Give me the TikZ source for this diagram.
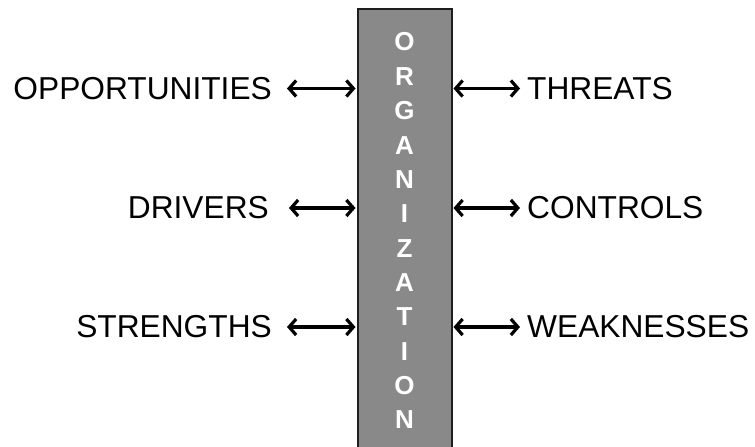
\documentclass[tikz,border=0pt]{standalone}
\usepackage{fontspec}
\setmainfont{Liberation Sans}
\usetikzlibrary{arrows.meta}
\definecolor{boxfill}{HTML}{898989}
\definecolor{boxline}{HTML}{1E1E1E}
\begin{document}
\begin{tikzpicture}[x=1pt,y=1pt,
  lab/.style={inner sep=0pt, font=\fontsize{31.7}{38}\selectfont},
  letter/.style={inner sep=0pt, text=white, font=\fontsize{26}{30}\selectfont\bfseries},
  tipbarb/.tip={Straight Barb[length=7pt,width=16pt,line width=3.2pt]},
  biarrow/.style={line width=3.2pt, tipbarb-tipbarb},
  orgbox/.style={fill=boxfill, draw=boxline, line width=2pt, minimum width=94pt, minimum height=480pt, inner sep=0pt, anchor=north}]
\useasboundingbox (0,0) rectangle (755,-447);
\clip (0,0) rectangle (755,-447);
\node[orgbox] (org) at (404.5,-8) {};
\foreach \l [count=\i from 0] in {O,R,G,A,N,I,Z,A,T,I,O,N}
  \node[letter] (l\i) at (404.5,{-42-34.36*\i}) {\l};
\node[lab, anchor=east] (opp) at (272,-88.5) {OPPORTUNITIES};
\node[lab, anchor=east] (drv) at (269,-208) {DRIVERS};
\node[lab, anchor=east] (str) at (272,-327) {STRENGTHS};
\node[lab, anchor=west] (thr) at (527,-88.5) {THREATS};
\node[lab, anchor=west] (ctl) at (527,-208) {CONTROLS};
\node[lab, anchor=west] (wk) at (527,-327) {WEAKNESSES};
\draw[biarrow] ([xshift=15pt]opp.east) -- ([xshift=-1pt]org.west |- opp.east);
\draw[biarrow] ([xshift=20pt]drv.east) -- ([xshift=-1pt]org.west |- drv.east);
\draw[biarrow] ([xshift=15pt]str.east) -- ([xshift=-1pt]org.west |- str.east);
\draw[biarrow] ([xshift=1pt]org.east |- thr.west) -- ([xshift=-7pt]thr.west);
\draw[biarrow] ([xshift=1pt]org.east |- ctl.west) -- ([xshift=-7pt]ctl.west);
\draw[biarrow] ([xshift=1pt]org.east |- wk.west) -- ([xshift=-7pt]wk.west);
\end{tikzpicture}
\end{document}
